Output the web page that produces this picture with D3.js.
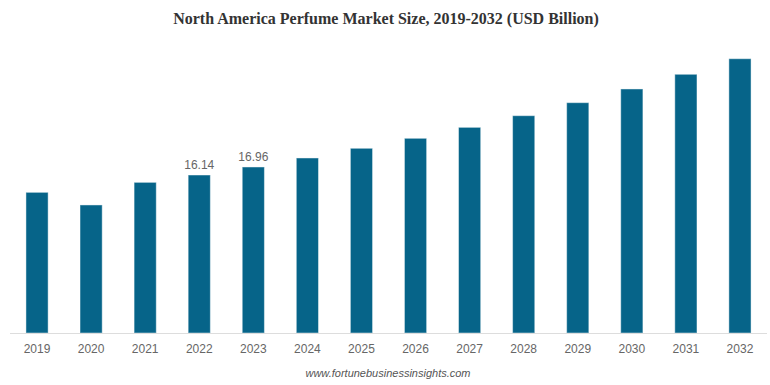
<!DOCTYPE html>
<html>
<head>
    <meta charset="UTF-8">
    <title>North America Perfume Market Size</title>
    <script src="https://cdn.jsdelivr.net/npm/d3@7/dist/d3.min.js"></script>
    <style>
        body { margin: 0; background: #fff; }
    </style>
</head>
<body>
<div id="chart"></div>
<script>
    // values
    var years = ["2019", "2020", "2021", "2022", "2023", "2024", "2025", "2026",
                 "2027", "2028", "2029", "2030", "2031", "2032"];
    var values = [14.37, 13.08, 15.39, 16.14, 16.96, 17.88, 18.87, 19.89,
                  21.01, 22.20, 23.53, 24.93, 26.43, 28.02];
    var labelled = ["2022", "2023"];

    var width = 770, height = 385;
    var baseY = 333;

    var svg = d3.select("#chart")
            .append("svg")
            .attr("width", width)
            .attr("height", height);

    var x = d3.scaleBand()
            .domain(years)
            .range([10, 767])
            .paddingInner(0.59)
            .paddingOuter(0.295);

    var y = d3.scaleLinear()
            .domain([0, 30])
            .range([baseY, baseY - 30 / 0.10216]);

    svg.append("text")
        .attr("x", 386)
        .attr("y", 24)
        .attr("text-anchor", "middle")
        .attr("font-family", "'Liberation Serif', 'Times New Roman', serif")
        .attr("font-weight", "bold")
        .attr("font-size", 16)
        .attr("fill", "#333")
        .text("North America Perfume Market Size, 2019-2032 (USD Billion)");

    svg.append("g")
        .selectAll("rect")
        .data(values)
        .enter()
        .append("rect")
        .attr("x", function(d, i){ return x(years[i]); })
        .attr("y", function(d){ return y(d); })
        .attr("width", x.bandwidth())
        .attr("height", function(d){ return y(0) - y(d); })
        .attr("fill", "#066489")
        .attr("stroke", "rgba(255,255,255,0.45)")
        .attr("stroke-width", 1);

    // value labels on two bars
    svg.append("g")
        .selectAll("text")
        .data(years.filter(function(yr){ return labelled.indexOf(yr) >= 0; }))
        .enter()
        .append("text")
        .attr("x", function(yr){ return x(yr) + x.bandwidth() / 2; })
        .attr("y", function(yr){ return y(values[years.indexOf(yr)]) - 6; })
        .attr("text-anchor", "middle")
        .attr("font-family", "'Liberation Sans', Arial, sans-serif")
        .attr("font-size", 12)
        .attr("fill", "#666")
        .text(function(yr){ return values[years.indexOf(yr)].toFixed(2); });

    var axis = svg.append("g")
        .attr("transform", "translate(0," + baseY + ")")
        .call(d3.axisBottom(x).tickSize(0).tickPadding(11));
    axis.select(".domain").attr("stroke", "#ddd").attr("d", "M10,0.5H767");
    axis.selectAll("text")
        .attr("font-family", "'Liberation Sans', Arial, sans-serif")
        .attr("font-size", 12)
        .attr("fill", "#666");

    svg.append("text")
        .attr("x", 388)
        .attr("y", 377)
        .attr("text-anchor", "middle")
        .attr("font-family", "'Liberation Sans', Arial, sans-serif")
        .attr("font-style", "italic")
        .attr("font-size", 11)
        .attr("fill", "#555")
        .text("www.fortunebusinessinsights.com");
</script>
</body>
</html>
